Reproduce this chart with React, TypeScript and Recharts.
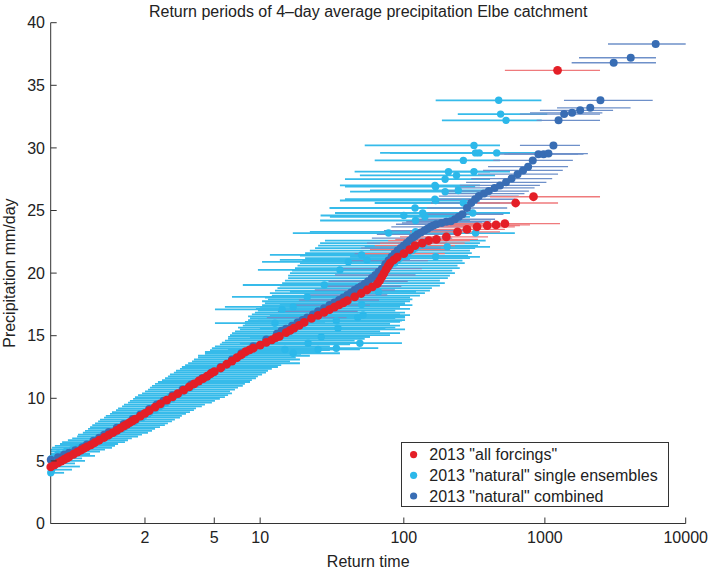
import React from 'react';
import { ScatterChart, Scatter, XAxis, YAxis, ErrorBar, Legend, Label } from 'recharts';

// [return time, precipitation mm/day, (lower return time, upper return time)]
type Row = number[];

const allForcings: Row[] = [
  [1.041, 4.52], [1.05, 4.69], [1.06, 4.85], [1.07, 4.99], [1.08, 5.11], [1.09, 5.23], [1.1, 5.33],
  [1.12, 5.53], [1.14, 5.7], [1.16, 5.85], [1.18, 5.99], [1.2, 6.12], [1.23, 6.28], [1.26, 6.45],
  [1.3, 6.65], [1.35, 6.87], [1.4, 7.07], [1.45, 7.26], [1.5, 7.44], [1.55, 7.62], [1.6, 7.78],
  [1.65, 7.92], [1.7, 8.07], [1.75, 8.2], [1.8, 8.34], [1.9, 8.57], [2, 8.8], [2.1, 9.01],
  [2.25, 9.29], [2.4, 9.55], [2.6, 9.85], [2.8, 10.12], [3, 10.38], [3.25, 10.66], [3.5, 10.92],
  [3.75, 11.16], [4, 11.38], [4.25, 11.57], [4.5, 11.76], [4.75, 11.96], [5, 12.13], [5.5, 12.42],
  [6, 12.72], [6.5, 12.97], [7, 13.24], [7.5, 13.48], [8, 13.72], [8.5, 13.86], [9, 14.0],
  [10, 14.25], [11, 14.47], [12, 14.67], [12.75, 14.84], [13.5, 14.94], [15, 15.25], [16, 15.43],
  [17, 15.61], [18.5, 15.83], [20, 16.06], [22.5, 16.39], [25, 16.63], [27.5, 16.86], [30, 17.09],
  [32.5, 17.28], [35, 17.46], [37.5, 17.63], [40, 17.8], [45, 18.1], [50, 18.37], [55, 18.65],
  [60, 18.9], [65, 19.15], [67.5, 19.4], [70, 19.7], [72.5, 20.0], [75, 20.3], [77.5, 20.55],
  [80, 20.8], [85, 21.05], [90, 21.28],
  [100, 21.55, 53, 195], [110, 21.88, 57.7, 212], [120, 22.2, 62.3, 230], [135, 22.4, 68, 270],
  [150, 22.6, 77.5, 294], [170, 22.7, 87, 335], [200, 22.9, 94, 395], [240, 23.3, 110.6, 480],
  [280, 23.5, 130, 520], [330, 23.7, 141, 612], [390, 23.8, 166, 665], [450, 23.85, 195, 784],
  [520, 23.95, 212, 1280], [620, 25.6, 330, 1240], [830, 26.1, 408, 2463], [1230, 36.2, 520, 2463],
];

const naturalSingle: Row[] = [
  [1.041, 4.05, 1.041, 1.08], [1.043, 4.3, 1.041, 1.113], [1.048, 4.55, 1.041, 1.155],
  [1.046, 4.8, 1.041, 1.128], [1.054, 5.0, 1.041, 1.187], [1.043, 5.2, 1.041, 1.168],
  [1.066, 5.4, 1.041, 1.263], [1.06, 5.55, 1.041, 1.223], [1.087, 5.75, 1.041, 1.308],
  [1.114, 5.9, 1.041, 1.358], [1.144, 6.05, 1.044, 1.438], [1.18, 6.2, 1.051, 1.476],
  [1.208, 6.35, 1.066, 1.517], [1.246, 6.5, 1.073, 1.619], [1.29, 6.65, 1.095, 1.668],
  [1.328, 6.8, 1.114, 1.735], [1.391, 6.95, 1.139, 1.852], [1.414, 7.1, 1.144, 1.934],
  [1.476, 7.25, 1.173, 2.07], [1.516, 7.4, 1.187, 2.17], [1.574, 7.55, 1.208, 2.25],
  [1.619, 7.7, 1.223, 2.39], [1.668, 7.85, 1.24, 2.54], [1.701, 8.0, 1.263, 2.64],
  [1.792, 8.15, 1.29, 2.78], [1.83, 8.3, 1.308, 2.89], [1.935, 8.45, 1.348, 3.09],
  [1.978, 8.6, 1.367, 3.17], [2.07, 8.75, 1.414, 3.35], [2.118, 8.9, 1.438, 3.54],
  [2.248, 9.05, 1.489, 3.74], [2.248, 9.2, 1.517, 3.85], [2.389, 9.35, 1.574, 4.18],
  [2.45, 9.5, 1.604, 4.37], [2.576, 9.65, 1.668, 4.83], [2.64, 9.8, 1.701, 5.05],
  [2.78, 9.95, 1.757, 5.43], [2.709, 10.1, 1.792, 5.85], [2.93, 10.25, 1.852, 6.13],
  [3.09, 10.4, 1.935, 6.5], [3.22, 10.55, 2.0, 6.31], [3.35, 10.7, 2.07, 6.8],
  [3.54, 10.85, 2.118, 7.12], [3.64, 11.0, 2.17, 7.66], [3.85, 11.15, 2.248, 7.91],
  [3.96, 11.3, 2.33, 8.55], [4.18, 11.45, 2.45, 8.8], [4.37, 11.6, 2.544, 9.37],
  [4.57, 11.75, 2.64, 9.66], [4.7, 11.9, 2.709, 10.3], [4.98, 12.05, 2.85, 10.95],
  [5.12, 12.2, 2.93, 11.3], [5.43, 12.35, 3.09, 12.0], [5.69, 12.5, 3.17, 13.2],
  [5.94, 12.65, 3.31, 13.9], [6.13, 12.8, 3.45, 18.7], [6.5, 12.95, 3.64, 15.96],
  [6.61, 13.1, 3.74, 18.7], [7.12, 13.25, 3.96, 17.5], [7.33, 13.4, 3.96, 21.9],
  [7.9, 13.55, 4.37, 19.0], [8.13, 13.7, 4.37, 25.8], [8.55, 13.85, 4.7, 30.2],
  [9.0, 14.0, 4.83, 35.5], [9.37, 14.15, 5.05, 30.2], [10.3, 14.3, 5.43, 41.8],
  [10.95, 14.45, 5.59, 49], [12.0, 14.6, 5.85, 45], [12.6, 14.75, 6.13, 53],
  [13.6, 14.9, 6.13, 57.7], [14.1, 15.05, 6.31, 79.9], [15.0, 15.2, 6.5, 94],
  [15.96, 15.35, 6.8, 68], [17.0, 15.5, 7.33, 102], [17.6, 15.65, 7.12, 87],
  [18.7, 15.8, 7.66, 94], [19.4, 15.95, 7.91, 79.9], [20.6, 16.1, 7.91, 94],
  [21.3, 16.25, 8.3, 102], [22.6, 16.4, 8.55, 87], [24.1, 16.55, 8.3, 102],
  [25.8, 16.7, 8.8, 94], [27.9, 16.85, 9.22, 102], [29.4, 17.0, 9.66, 87],
  [31.1, 17.15, 9.37, 110.6], [32.8, 17.3, 9.97, 94], [34.3, 17.45, 10.3, 115],
  [36.9, 17.6, 10.77, 102], [38.8, 17.75, 10.3, 110.6], [40.7, 17.9, 11.3, 115],
  [41.8, 18.05, 10.77, 110.6], [45, 18.2, 12.0, 130], [47.2, 18.4, 11.64, 141],
  [50.6, 18.6, 12.6, 153], [54.2, 18.8, 13.1, 158], [57.7, 19.0, 13.6, 180],
  [62.3, 19.2, 14.1, 195], [64.8, 19.4, 14.74, 180], [66.5, 19.6, 15.5, 205],
  [68, 19.8, 15.5, 212], [70.3, 20.0, 15.96, 230], [74, 20.2, 16.5, 220],
  [77.5, 20.4, 17.28, 249], [79.9, 20.6, 18.0, 240], [86, 20.8, 18.7, 270],
  [90, 21.0, 19.4, 260], [94, 21.2, 20.3, 294], [102, 21.4, 18.7, 285],
  [107, 21.6, 20.3, 303], [115, 21.8, 21.9, 294], [121, 22.0, 23.8, 320],
  [130, 22.2, 25.0, 335], [140, 22.4, 25.8, 346], [148, 22.6, 27.9, 380],
  [14.1, 17.1, 5.05, 30.2], [16.8, 17.3, 5.85, 35.5], [21.0, 18.1, 6.5, 41.8],
  [27.6, 19.05, 7.66, 53], [35.5, 20.25, 9.66, 68], [40.6, 20.9, 10.3, 79.9],
  [50.4, 21.45, 11.64, 94], [78, 23.2, 16.7, 153], [121, 23.3, 21.9, 230],
  [121, 24.2, 25.8, 294], [141, 24.5, 30.2, 294], [136, 24.8, 32.8, 303],
  [168, 25.8, 35.5, 346], [168, 26.9, 38.5, 320], [196, 26.5, 41.8, 380],
  [207, 28.1, 45, 408], [236, 27.8, 49, 443], [264, 29.0, 62.3, 480],
  [314, 28.1, 79.9, 565], [322, 29.6, 68, 665], [342, 29.6, 79.9, 665],
  [455, 29.6, 94, 922], [314, 30.2, 53, 480], [243, 26.6, 57.7, 443],
  [264, 25.6, 62.3, 480], [322, 23.2, 94, 612], [308, 24.8, 79.9, 565],
  [203, 22.1, 53, 408], [168, 21.3, 41.8, 346], [196, 27.5, 38.5, 408],
  [166, 27.0, 35.5, 346], [166, 25.9, 38.5, 320], [470, 33.8, 168, 945],
  [485, 32.7, 241, 1040], [530, 32.2, 186, 950], [49, 14.4, 9.66, 97],
  [33.5, 14.0, 10.3, 66], [25, 13.9, 7.91, 49], [21.3, 14.4, 7.33, 43],
  [26.3, 14.9, 8.55, 57.7], [34.4, 15.6, 9.97, 74], [51.6, 16.65, 11.64, 110.6],
  [47.3, 16.45, 11.3, 102], [33.5, 16.2, 9.66, 97], [50.4, 17.5, 13.6, 102],
  [66.3, 18.5, 15.96, 122], [16.8, 13.6, 6.31, 35.5], [14.74, 13.9, 6.13, 32.8],
  [12.6, 16.0, 5.05, 27.9], [55, 21.05, 13.6, 110.6], [120, 25.2, 30, 300],
  [100, 24.6, 26, 240],
];

const naturalCombined: Row[] = [
  [1.041, 5.1], [1.06, 5.3], [1.08, 5.5], [1.1, 5.65], [1.13, 5.85], [1.17, 6.1], [1.2, 6.3],
  [1.25, 6.6], [1.3, 6.85], [1.35, 7.08], [1.4, 7.3], [1.5, 7.65], [1.6, 7.95], [1.75, 8.35],
  [1.9, 8.7], [2.1, 9.15], [2.3, 9.5], [2.5, 9.8], [2.8, 10.25], [3.2, 10.7], [3.6, 11.1],
  [4.2, 11.6], [4.8, 12.05], [5.5, 12.5], [6.5, 13.1], [7.5, 13.6], [9, 14.15], [11, 14.7],
  [13, 15.15], [14, 15.4], [15, 15.55], [16.5, 15.8], [18, 16.05], [19.5, 16.25],
  [21, 16.45, 11.1, 39.5], [23, 16.7], [25, 16.95, 13.2, 47.3], [27.5, 17.2],
  [30, 17.45, 15.96, 57.7], [32.5, 17.65], [35, 17.85, 18.4, 66.8], [37.5, 18.05],
  [40, 18.25, 20.9, 76.4], [42.5, 18.45], [45, 18.65, 23.7, 86.5], [47.5, 18.8],
  [50, 18.95, 26.2, 96], [53, 19.15], [56, 19.35, 29.5, 106.6], [59.5, 19.6],
  [63, 19.85, 32.8, 121], [66.5, 20.1], [70, 20.35, 36.9, 134], [74, 20.7],
  [78, 21.0, 40.7, 148], [82, 21.3], [86, 21.55, 45, 166], [90.5, 21.8],
  [95, 22.0, 50, 183], [100, 22.2], [105, 22.4, 55, 202], [110, 22.6],
  [115, 22.8, 59.5, 220], [120, 22.95], [125, 23.1, 64.5, 237], [132, 23.25],
  [140, 23.4, 72.4, 270], [147, 23.55], [155, 23.7, 81.6, 299], [162, 23.8],
  [170, 23.9, 88, 326], [185, 24.0, 97, 358], [200, 24.1, 104, 385], [215, 24.15, 113, 415],
  [230, 24.3, 121, 443], [245, 24.5], [260, 24.7, 134, 508], [280, 25.2, 146, 540],
  [300, 25.6, 156, 577], [320, 25.9, 166, 612], [340, 26.15, 177, 652], [370, 26.35, 191, 716],
  [400, 26.55, 208, 770], [440, 26.8, 230, 845], [480, 27.0, 249, 922], [530, 27.25, 276, 1025],
  [580, 27.55, 300, 1127], [640, 27.9, 335, 1240], [700, 28.2, 364, 1340], [760, 28.5, 395, 1460],
  [820, 29.0, 430, 1580], [900, 29.5, 465, 1720], [980, 29.5, 515, 1880], [1060, 29.55, 550, 2020],
  [1150, 30.2, 665, 1775], [1250, 32.2, 874, 2463], [1370, 32.7, 665, 2463], [1560, 32.8, 784, 2560],
  [1780, 33.0, 922, 3050], [2100, 33.2, 1220, 4060], [2480, 33.8, 1366, 5830],
  [3080, 36.8, 1549, 6150], [4070, 37.2, 1747, 6150], [6120, 38.3, 2806, 10000],
];

const xTickReturnTimes = [2, 5, 10, 100, 1000, 10000];
const xTickLabels = ['2', '5', '10', '100', '1000', '10000'];
const yTicks = [0, 5, 10, 15, 20, 25, 30, 35, 40];
const returnTimeMin = 1.0408;
const returnTimeMax = 10000;

const chartTitle = 'Return periods of 4–day average precipitation Elbe catchment';
const seriesNames = ['2013 "all forcings"', '2013 "natural" single ensembles', '2013 "natural" combined'];
const seriesColors = ['#e41f27', '#2cb8ea', '#386db4'];
const barColors = ['#ef7a7c', '#36bbea', '#6e90c9'];

const FONT = '"Liberation Sans", Arial, Helvetica, sans-serif';
const AXIS = '#333333';
const TEXT = '#222222';

// Gumbel reduced variate of a return period
const gumbel = (T: number) => -Math.log(-Math.log(1 - 1 / T));

const toPoints = (rows: Row[]) =>
  rows.map((r) => {
    const g = gumbel(r[0]);
    const lo = r.length > 2 ? r[2] : r[0];
    const hi = r.length > 3 ? r[3] : r[0];
    return { g, v: r[1], err: [g - gumbel(lo), gumbel(hi) - g] };
  });

const redPts = toPoints(allForcings);
const lightPts = toPoints(naturalSingle);
const darkPts = toPoints(naturalCombined);

const xDomain = [gumbel(returnTimeMin), gumbel(returnTimeMax)];
const xTicks = xTickReturnTimes.map(gumbel);

const labelFor = (v: number) => {
  const i = xTicks.findIndex((t) => Math.abs(t - v) < 1e-6);
  return i >= 0 ? xTickLabels[i] : '';
};

const BottomTick = (p: any) => (
  <g>
    <line x1={p.x} y1={p.y} x2={p.x} y2={p.y - 6} stroke={AXIS} strokeWidth={1} />
    <text x={p.x} y={p.y + 19.8} textAnchor="middle" fontSize={16} fontFamily={FONT} fill={TEXT}>
      {labelFor(p.payload.value)}
    </text>
  </g>
);
const TopTick = (p: any) => (
  <line x1={p.x} y1={p.y} x2={p.x} y2={p.y + 6} stroke={AXIS} strokeWidth={1} />
);
const LeftTick = (p: any) => (
  <g>
    <line x1={p.x} y1={p.y} x2={p.x + 6} y2={p.y} stroke={AXIS} strokeWidth={1} />
    <text x={p.x - 5.7} y={p.y + 5.7} textAnchor="end" fontSize={16} fontFamily={FONT} fill={TEXT}>
      {String(p.payload.value)}
    </text>
  </g>
);
const RightTick = (p: any) => (
  <line x1={p.x} y1={p.y} x2={p.x - 6} y2={p.y} stroke={AXIS} strokeWidth={1} />
);

const dot = (color: string, r: number) => (p: any) =>
  <circle cx={p.cx} cy={p.cy} r={r} fill={color} stroke="none" />;

const LegendBox = () => (
  <svg width={268} height={65} style={{ display: 'block' }}>
    <rect x={0.5} y={0.5} width={267} height={64} fill="#ffffff" stroke={AXIS} strokeWidth={1} />
    {seriesNames.map((name, i) => (
      <g key={name}>
        <circle cx={12.6} cy={12.6 + i * 20.7} r={3.6} fill={seriesColors[i]} />
        <text x={28.3} y={12.6 + i * 20.7 + 5.7} fontSize={16} fontFamily={FONT} fill={TEXT}>
          {name}
        </text>
      </g>
    ))}
  </svg>
);

export default function App() {
  return (
    <div style={{ position: 'absolute', left: 0, top: 0, width: 709, height: 570, background: '#fff', fontFamily: FONT }}>
      <ScatterChart width={709} height={570} margin={{ top: 22.7, right: 23.3, bottom: 6.5, left: 5.7 }}>
        <XAxis
          xAxisId={0}
          dataKey="g"
          type="number"
          domain={xDomain}
          ticks={xTicks}
          interval={0}
          height={40}
          tickSize={0}
          tickMargin={0}
          tick={BottomTick}
          axisLine={{ stroke: AXIS, strokeWidth: 1 }}
        >
          <Label
            content={(p: any) => {
              const vb = p.viewBox || { x: 50.7, y: 523.5, width: 635 };
              return (
                <text x={vb.x + vb.width / 2} y={vb.y + 43} textAnchor="middle" fontSize={16} fontFamily={FONT} fill={TEXT}>
                  Return time
                </text>
              );
            }}
          />
        </XAxis>
        <XAxis
          xAxisId="top"
          orientation="top"
          type="number"
          domain={xDomain}
          allowDataOverflow
          ticks={xTicks}
          interval={0}
          height={0}
          tickSize={0}
          tickMargin={0}
          tick={TopTick}
          axisLine={{ stroke: AXIS, strokeWidth: 1 }}
        />
        <YAxis
          yAxisId={0}
          dataKey="v"
          type="number"
          domain={[0, 40]}
          ticks={yTicks}
          interval={0}
          width={45}
          tickSize={0}
          tickMargin={0}
          tick={LeftTick}
          axisLine={{ stroke: AXIS, strokeWidth: 1 }}
        >
          <Label
            content={(p: any) => {
              const vb = p.viewBox || { x: 5.7, y: 22.7, height: 500.8 };
              const cx = vb.x + 9.3;
              const cy = vb.y + vb.height / 2;
              return (
                <g>
                  <text x={cx} y={cy} transform={`rotate(-90 ${cx} ${cy})`} textAnchor="middle" fontSize={16} fontFamily={FONT} fill={TEXT}>
                    Precipitation mm/day
                  </text>
                  <text x={368.2} y={vb.y - 5.7} textAnchor="middle" fontSize={16} fontFamily={FONT} fill={TEXT}>
                    {chartTitle}
                  </text>
                </g>
              );
            }}
          />
        </YAxis>
        <YAxis
          yAxisId="right"
          orientation="right"
          type="number"
          domain={[0, 40]}
          allowDataOverflow
          ticks={yTicks}
          interval={0}
          width={0}
          tickSize={0}
          tickMargin={0}
          tick={RightTick}
          axisLine={{ stroke: AXIS, strokeWidth: 1 }}
        />
        <Scatter name={seriesNames[1]} data={lightPts} isAnimationActive={false} shape={dot(seriesColors[1], 3.7)}>
          <ErrorBar dataKey="err" direction="x" width={0} stroke={barColors[1]} strokeWidth={1.8} isAnimationActive={false} />
        </Scatter>
        <Scatter name={seriesNames[2]} data={darkPts} isAnimationActive={false} shape={dot(seriesColors[2], 4.0)}>
          <ErrorBar dataKey="err" direction="x" width={0} stroke={barColors[2]} strokeWidth={1.3} isAnimationActive={false} />
        </Scatter>
        <Scatter name={seriesNames[0]} data={redPts} isAnimationActive={false} shape={dot(seriesColors[0], 4.4)}>
          <ErrorBar dataKey="err" direction="x" width={0} stroke={barColors[0]} strokeWidth={1.3} isAnimationActive={false} />
        </Scatter>
        <Legend
          layout="vertical"
          align="center"
          verticalAlign="middle"
          wrapperStyle={{ left: 400.7, top: 441.7, width: 268, height: 65 }}
          content={() => <LegendBox />}
        />
      </ScatterChart>
    </div>
  );
}
